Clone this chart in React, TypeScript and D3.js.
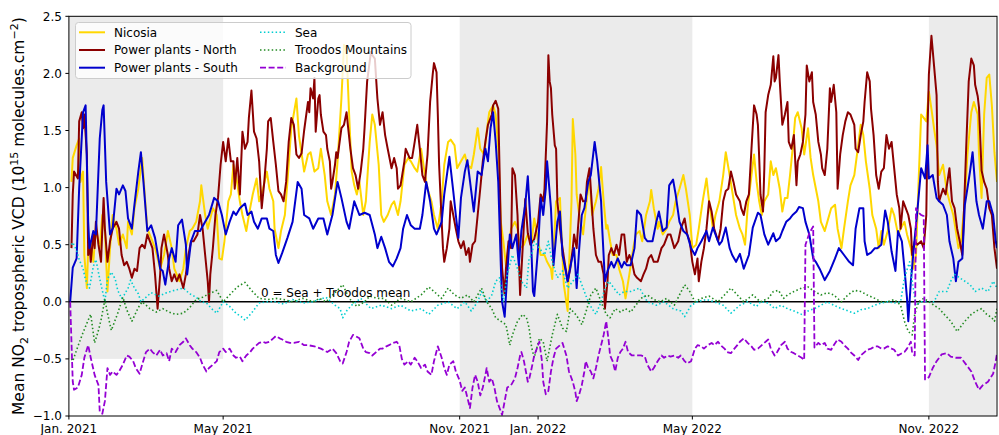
import React from "react";
import * as d3 from "d3";

// ---------- data (day offset from 1 Jan 2021, value in 1e15 molecules/cm2) ----------
const nicosia: [number, number][] = [[2,1.05],[3,1.26],[6,1.37],[8,1.43],[9,1.05],[11,1.14],[12,0.41],[14,0.12],[15,0.47],[17,0.53],[19,0.35],[21,0.64],[24,0.47],[26,0.76],[28,0.62],[30,0.09],[32,0.47],[34,0.76],[37,0.64],[39,0.5],[42,0.59],[45,0.47],[46,0.7],[49,0.59],[51,0.82],[54,0.99],[57,1.26],[59,0.94],[61,0.64],[65,0.53],[67,0.47],[71,0.29],[74,0.41],[77,0.62],[80,0.47],[82,0.29],[86,0.18],[89,0.29],[91,0.47],[94,0.62],[96,0.64],[99,0.7],[102,0.88],[103,1.02],[106,0.76],[108,0.64],[112,0.82],[115,0.76],[117,0.38],[119,0.37],[121,0.53],[124,0.88],[126,0.94],[128,1.2],[130,1.11],[133,0.88],[135,0.76],[138,0.62],[141,0.82],[143,0.94],[146,1.08],[148,0.88],[151,0.99],[154,1.14],[156,0.99],[159,0.88],[160,0.64],[163,0.47],[165,0.62],[168,0.76],[170,1.05],[173,1.52],[177,1.78],[179,1.45],[181,1.3],[183,1.14],[186,1.29],[188,1.31],[191,1.14],[194,1.17],[196,1.34],[199,1.11],[201,0.88],[204,0.76],[207,0.94],[209,1.23],[212,1.78],[214,2.25],[216,2.2],[218,1.64],[220,1.14],[222,1.02],[224,0.94],[226,1.05],[229,0.76],[231,0.88],[234,1.4],[236,1.64],[238,1.55],[241,1.2],[243,0.76],[245,0.7],[248,0.76],[251,0.85],[253,0.88],[256,0.76],[258,0.88],[261,1.2],[264,1.26],[266,1.23],[269,1.17],[271,1.14],[274,1.34],[277,1.11],[279,0.99],[282,0.88],[284,0.76],[287,0.64],[290,0.88],[292,1.2],[295,1.4],[297,1.42],[300,1.37],[302,1.17],[305,1.23],[308,1.29],[310,1.2],[313,1.17],[315,1.29],[318,1.52],[320,1.34],[323,1.29],[325,1.49],[327,1.66],[330,1.72],[332,1.64],[334,1.34],[336,0.7],[338,0.53],[340,0.32],[342,0.47],[344,0.64],[347,0.7],[349,0.64],[351,0.47],[354,0.5],[357,0.59],[360,0.53],[362,0.73],[365,0.53],[367,0.41],[370,0.41],[372,0.35],[375,0.29],[376,0.2],[379,0.88],[382,0.91],[383,0.64],[385,0.15],[388,-0.08],[389,0.29],[391,0.88],[392,1.6],[394,1.29],[395,0.94],[397,0.76],[400,0.59],[401,0.7],[403,0.91],[405,1.08],[407,0.76],[410,0.88],[412,0.99],[414,1.18],[416,0.88],[418,0.64],[419,0.67],[421,0.53],[423,0.41],[426,0.41],[428,0.29],[431,0.18],[433,0.03],[436,0.24],[439,0.47],[441,0.59],[444,0.62],[446,0.53],[449,0.76],[452,0.88],[453,0.98],[455,0.82],[458,0.64],[459,0.7],[462,0.59],[465,0.64],[467,0.7],[470,0.76],[472,0.88],[475,0.99],[478,1.11],[480,0.99],[483,0.76],[485,0.47],[488,0.5],[490,0.64],[493,0.88],[496,1.08],[498,0.88],[501,0.64],[503,0.76],[506,0.88],[509,1.11],[511,1.31],[514,1.11],[516,0.97],[519,0.76],[522,0.64],[524,0.59],[526,0.5],[528,0.82],[531,1.11],[533,1.29],[535,1.05],[537,0.88],[539,0.76],[541,0.88],[544,0.94],[546,1.23],[548,1.11],[550,1.17],[553,0.99],[555,0.79],[557,0.91],[559,0.91],[561,1.11],[563,1.34],[565,1.61],[567,1.66],[570,1.52],[572,1.29],[575,1.52],[577,1.26],[579,1.11],[583,0.88],[585,0.7],[588,0.62],[590,0.7],[593,0.82],[596,0.85],[598,0.64],[601,0.47],[603,0.64],[606,0.88],[608,1.02],[611,1.11],[614,1.37],[616,1.55],[618,1.46],[620,1.23],[623,0.99],[625,0.76],[628,0.64],[630,0.47],[632,0.62],[634,0.5],[637,0.62],[640,0.82],[642,0.76],[645,0.59],[647,0.64],[650,0.7],[652,0.59],[655,0.47],[657,0.29],[659,0.41],[661,1.05],[663,1.64],[665,1.61],[667,1.58],[669,1.84],[671,1.69],[673,1.52],[675,1.37],[677,1.11],[680,1.2],[683,0.97],[685,0.88],[688,0.76],[690,0.62],[692,0.47],[694,0.53],[697,0.88],[699,1.29],[702,1.66],[704,1.75],[707,1.64],[708,1.29],[710,0.91],[712,1.64],[714,1.96],[716,1.99],[718,1.72],[720,1.31],[722,1.05]];

const north: [number, number][] = [[2,0.47],[3,0.94],[4,1.14],[7,1.08],[8,1.58],[10,1.66],[11,1.52],[12,1.64],[14,1.29],[15,0.41],[16,0.53],[17,0.35],[19,0.59],[20,0.47],[21,0.7],[23,0.5],[25,0.35],[26,0.64],[27,0.91],[28,0.64],[30,0.35],[32,0.53],[34,0.64],[37,0.7],[39,0.64],[41,0.41],[43,0.32],[45,0.35],[47,0.29],[49,0.21],[51,0.29],[53,0.27],[55,0.47],[57,0.5],[59,0.47],[61,0.59],[64,0.5],[65,0.47],[67,0.24],[69,-0.06],[71,0.24],[72,0.47],[74,0.59],[77,0.41],[78,0.29],[80,0.18],[82,0.24],[84,0.18],[86,0.24],[89,0.12],[91,0.24],[93,0.41],[95,0.53],[97,0.53],[100,0.59],[102,0.76],[104,0.64],[106,0.41],[108,0.18],[109,0.0],[110,0.24],[112,0.47],[114,0.76],[116,0.91],[118,1.2],[120,1.4],[122,1.23],[124,1.43],[126,1.23],[128,1.23],[129,0.99],[131,1.26],[133,0.94],[135,1.49],[137,1.34],[139,1.4],[140,1.61],[142,1.85],[144,1.49],[146,1.43],[148,1.23],[150,0.82],[152,1.05],[154,1.34],[155,1.58],[157,1.61],[159,1.4],[161,1.2],[163,0.97],[165,0.94],[167,0.88],[169,1.05],[171,1.4],[173,1.61],[175,1.55],[177,1.29],[179,1.26],[181,1.3],[183,1.5],[186,1.75],[187,1.66],[188,1.87],[190,1.78],[191,1.96],[192,1.49],[194,1.78],[195,1.81],[196,1.64],[198,1.49],[200,1.46],[201,1.34],[203,1.23],[204,0.99],[205,1.05],[207,1.2],[208,1.31],[209,1.26],[212,1.52],[214,1.55],[216,1.66],[217,1.55],[219,1.34],[221,1.17],[223,1.11],[225,0.99],[227,1.14],[229,1.34],[230,1.52],[232,1.93],[235,2.19],[236,2.16],[238,2.13],[240,1.78],[242,1.55],[244,1.66],[246,1.46],[248,1.34],[251,1.17],[253,1.26],[255,1.17],[256,0.99],[258,1.02],[261,1.23],[262,1.34],[265,1.26],[267,1.26],[269,1.4],[271,1.55],[273,1.34],[275,1.11],[277,1.05],[279,1.29],[281,1.75],[283,1.99],[284,2.09],[286,2.01],[287,1.64],[288,1.2],[290,0.7],[291,0.47],[292,0.35],[294,0.47],[296,0.64],[297,0.88],[299,0.76],[301,0.64],[303,0.53],[305,0.47],[307,0.53],[309,0.41],[311,0.47],[312,0.35],[314,0.5],[316,0.53],[318,0.76],[320,0.99],[322,1.23],[324,1.4],[326,1.55],[329,1.64],[330,1.72],[332,1.76],[334,1.69],[335,1.17],[336,0.64],[337,0.29],[339,0.06],[340,0.29],[342,0.53],[344,0.47],[345,1.17],[347,1.11],[349,0.76],[351,0.06],[353,0.47],[355,0.9],[357,0.6],[359,0.5],[362,0.55],[365,0.7],[367,0.94],[369,0.88],[370,0.99],[372,1.58],[373,2.16],[374,1.93],[375,1.87],[376,1.64],[378,1.37],[379,1.34],[380,0.88],[382,0.64],[384,0.47],[386,0.32],[388,0.18],[390,0.29],[392,0.47],[393,0.59],[395,0.47],[396,0.64],[398,0.94],[400,0.88],[402,0.88],[403,1.05],[405,1.17],[406,0.99],[408,0.64],[410,0.41],[412,0.35],[414,0.35],[416,0.24],[417,-0.06],[419,0.18],[420,0.41],[422,0.47],[424,0.41],[426,0.5],[428,0.41],[430,0.59],[432,0.59],[434,0.35],[436,0.41],[438,0.35],[440,0.24],[442,0.21],[445,0.18],[447,0.24],[449,0.29],[451,0.38],[453,0.41],[455,0.35],[458,0.35],[461,0.47],[463,0.5],[466,0.59],[468,0.59],[471,0.47],[474,0.53],[476,0.64],[479,0.73],[481,0.59],[483,0.53],[485,0.35],[487,0.24],[489,0.38],[490,0.18],[492,0.35],[494,0.47],[496,0.64],[498,0.88],[500,0.79],[502,0.64],[505,0.53],[507,0.64],[509,0.88],[511,0.97],[513,0.99],[515,1.14],[517,1.05],[519,0.94],[522,0.88],[523,0.82],[525,0.76],[527,0.88],[529,0.94],[531,1.34],[533,1.72],[535,1.64],[536,1.55],[537,1.26],[538,0.94],[540,0.79],[541,1.17],[542,1.66],[544,1.81],[546,1.9],[548,2.15],[549,1.93],[550,1.96],[552,2.16],[553,1.93],[555,1.55],[557,1.64],[559,1.75],[560,1.4],[562,1.34],[564,1.46],[566,1.02],[567,1.23],[569,1.29],[571,1.4],[573,1.64],[574,2.07],[576,1.93],[578,2.01],[579,1.75],[581,1.64],[583,1.4],[585,1.29],[586,1.17],[588,1.11],[590,1.34],[592,1.87],[593,1.75],[595,1.9],[597,1.66],[598,0.99],[600,1.29],[602,1.46],[604,1.58],[606,1.66],[608,1.64],[610,1.58],[611,1.55],[612,1.34],[614,1.31],[616,1.46],[618,1.58],[619,1.75],[621,2.01],[623,1.93],[624,1.69],[626,1.46],[628,1.11],[630,0.99],[632,1.14],[634,1.17],[636,1.46],[638,1.34],[640,1.4],[642,1.17],[644,0.94],[646,0.82],[647,0.64],[649,0.88],[651,0.82],[653,0.76],[655,0.64],[656,0.41],[658,0.53],[660,0.5],[663,0.53],[665,0.47],[667,0.76],[668,1.52],[669,1.99],[671,2.33],[673,2.07],[675,1.81],[676,1.05],[677,0.88],[680,0.99],[682,0.94],[685,1.17],[687,0.88],[689,0.82],[691,0.64],[693,0.53],[695,0.41],[696,0.7],[698,1.34],[700,1.93],[702,2.13],[704,2.07],[705,1.9],[707,1.8],[708,1.7],[710,1.15],[712,1.05],[714,0.99],[716,0.82],[718,0.76],[720,0.47],[722,0.29]];

const south: [number, number][] = [[1,0.0],[3,0.3],[6,0.38],[8,1.0],[11,1.66],[13,1.72],[15,0.7],[16,0.47],[19,0.62],[21,0.59],[24,1.43],[26,1.68],[27,1.72],[29,1.05],[32,0.59],[34,0.64],[37,0.99],[39,0.94],[42,1.02],[44,0.97],[46,0.73],[49,0.64],[51,0.85],[54,1.14],[56,1.31],[58,1.05],[61,0.62],[64,0.67],[67,0.56],[71,0.29],[73,0.27],[75,0.15],[78,0.38],[80,0.47],[83,0.35],[85,0.67],[88,0.72],[91,0.5],[92,0.24],[95,0.53],[98,0.62],[102,0.62],[106,0.7],[109,0.76],[113,0.91],[116,0.88],[119,0.76],[122,0.59],[125,0.7],[128,0.79],[130,0.76],[133,0.82],[137,0.86],[139,0.76],[142,0.79],[144,0.7],[147,0.64],[150,0.73],[154,0.73],[156,0.64],[159,0.62],[161,0.41],[163,0.34],[166,0.43],[170,0.56],[174,0.7],[178,1.05],[181,0.99],[183,0.76],[187,0.73],[190,0.64],[194,0.73],[198,0.73],[201,0.59],[205,0.76],[209,1.05],[212,0.91],[216,0.7],[218,0.64],[222,0.88],[226,0.76],[230,0.78],[234,0.76],[238,0.59],[240,0.47],[243,0.57],[246,0.47],[249,0.35],[252,0.31],[255,0.38],[258,0.47],[260,0.64],[263,0.76],[266,0.67],[269,0.64],[273,0.64],[275,0.76],[278,1.05],[281,0.88],[284,0.64],[286,0.59],[290,0.7],[292,0.94],[296,1.27],[299,0.97],[301,0.76],[303,0.56],[305,0.91],[308,1.14],[310,1.24],[313,0.97],[315,0.79],[318,1.14],[321,1.11],[324,1.34],[326,1.23],[328,1.52],[330,1.66],[332,1.4],[334,1.05],[336,0.32],[337,0.0],[339,-0.13],[341,0.24],[343,0.59],[345,0.47],[348,0.59],[350,0.32],[352,0.62],[355,0.85],[357,1.1],[359,0.7],[361,0.09],[362,0.05],[365,0.47],[367,0.91],[369,0.76],[371,0.99],[372,1.23],[375,0.82],[377,0.32],[380,0.7],[382,0.79],[384,0.41],[387,0.24],[388,0.18],[390,0.3],[393,0.47],[395,0.12],[397,0.47],[399,0.76],[401,0.82],[404,1.05],[406,1.11],[409,1.4],[411,1.23],[414,0.88],[415,0.62],[417,0.18],[419,0.27],[422,0.35],[424,0.3],[427,0.38],[430,0.3],[432,0.35],[434,0.32],[437,0.32],[440,0.47],[442,0.8],[445,0.76],[448,0.56],[450,0.53],[454,0.53],[457,0.7],[459,0.79],[462,0.62],[465,0.65],[467,1.02],[470,1.07],[472,0.94],[475,0.7],[478,0.62],[481,0.59],[484,0.47],[487,0.41],[489,0.47],[492,0.53],[496,0.62],[498,0.53],[501,0.65],[503,0.59],[506,0.5],[508,0.53],[511,0.65],[514,0.47],[516,0.41],[519,0.35],[522,0.42],[525,0.29],[529,0.41],[532,0.65],[536,0.78],[538,0.76],[541,0.59],[544,0.5],[548,0.6],[550,0.53],[553,0.56],[555,0.62],[558,0.7],[561,0.73],[563,0.76],[566,0.79],[568,0.83],[571,0.82],[573,0.7],[576,0.59],[579,0.38],[581,0.35],[584,0.29],[586,0.24],[588,0.19],[592,0.27],[596,0.38],[599,0.47],[603,0.41],[607,0.35],[610,0.32],[612,0.64],[615,0.82],[618,0.82],[619,0.53],[621,0.41],[624,0.43],[627,0.47],[629,0.47],[632,0.5],[635,0.8],[637,0.7],[640,0.44],[643,0.27],[645,0.62],[648,0.53],[650,0.29],[652,0.03],[653,-0.17],[655,0.18],[658,0.56],[660,0.79],[663,1.17],[666,1.08],[668,1.37],[669,1.08],[672,1.11],[675,0.91],[677,0.88],[680,0.85],[683,0.76],[685,0.53],[688,0.38],[690,0.18],[692,0.35],[695,0.38],[697,0.85],[701,1.14],[703,1.31],[706,0.88],[708,0.76],[711,0.64],[714,0.88],[716,0.88],[719,0.76],[721,0.53],[722,0.47]];

const sea: [number, number][] = [[2,0.5],[3,0.52],[6,0.45],[8,0.37],[11,0.29],[13,0.19],[16,0.12],[19,0.31],[21,0.37],[24,0.2],[28,0.0],[30,0.2],[33,0.26],[36,0.2],[38,0.1],[41,0.03],[43,0.06],[46,0.12],[48,0.19],[51,0.12],[54,0.07],[56,0.0],[59,0.03],[64,0.08],[70,0.05],[76,0.08],[82,0.1],[89,0.12],[94,0.07],[99,0.04],[103,0.0],[107,-0.01],[111,-0.06],[115,-0.1],[120,0.0],[125,-0.04],[130,-0.1],[134,-0.13],[137,-0.16],[142,-0.1],[148,-0.01],[155,0.0],[161,0.0],[167,-0.02],[174,0.02],[182,-0.01],[190,0.0],[195,0.02],[200,0.04],[207,-0.03],[211,-0.06],[213,-0.14],[216,-0.08],[220,-0.03],[227,0.03],[235,-0.06],[243,-0.03],[251,-0.06],[258,-0.03],[266,-0.08],[274,-0.06],[280,-0.11],[287,-0.03],[295,0.0],[302,-0.06],[308,0.0],[313,-0.08],[318,0.0],[321,0.09],[325,0.0],[329,0.06],[332,0.18],[335,0.21],[338,0.0],[341,0.24],[345,0.41],[349,0.29],[352,0.18],[356,0.12],[358,0.38],[360,0.41],[362,0.53],[366,0.47],[370,0.41],[373,0.53],[376,0.35],[380,0.21],[384,0.27],[388,0.12],[392,0.18],[396,0.24],[400,0.12],[404,0.0],[407,-0.06],[410,-0.11],[414,0.0],[417,0.12],[420,0.18],[424,0.12],[428,0.06],[432,0.09],[437,0.09],[444,0.12],[450,0.0],[457,-0.03],[463,0.0],[470,-0.06],[476,-0.08],[479,-0.13],[484,-0.03],[489,0.0],[496,0.02],[502,0.0],[509,-0.03],[515,-0.1],[522,-0.03],[528,0.0],[535,-0.04],[538,0.0],[544,-0.01],[549,-0.06],[554,-0.03],[559,-0.06],[564,-0.08],[570,-0.11],[575,-0.08],[580,-0.06],[585,-0.03],[590,0.0],[595,-0.03],[601,-0.06],[606,-0.08],[611,-0.1],[616,-0.07],[621,-0.06],[627,-0.03],[632,-0.01],[637,0.0],[642,-0.01],[647,0.0],[650,0.21],[654,0.35],[656,0.18],[659,-0.03],[663,0.0],[668,0.0],[673,0.0],[677,0.09],[683,0.09],[686,0.18],[689,0.24],[693,0.21],[697,0.18],[701,0.15],[705,0.09],[710,0.12],[715,0.09],[719,0.18],[722,0.12]];

const troodos: [number, number][] = [[2,-0.5],[3,-0.52],[7,-0.39],[11,-0.27],[15,-0.16],[17,-0.11],[20,-0.36],[23,-0.25],[25,-0.16],[28,0.02],[30,-0.1],[33,-0.25],[38,-0.1],[42,0.04],[45,-0.07],[49,-0.17],[54,-0.05],[57,0.0],[63,-0.06],[68,-0.09],[73,-0.06],[78,-0.09],[83,-0.11],[89,-0.1],[94,-0.05],[99,0.02],[104,0.04],[109,0.07],[115,0.1],[120,0.0],[125,0.06],[131,0.13],[137,0.17],[142,0.1],[148,0.03],[155,0.02],[161,0.03],[167,0.02],[174,0.0],[182,0.03],[190,0.0],[195,0.03],[200,0.0],[207,0.08],[213,0.15],[218,0.03],[224,-0.04],[230,0.0],[234,0.05],[240,0.03],[245,0.03],[251,-0.03],[258,0.03],[266,0.0],[274,0.06],[280,0.13],[284,0.09],[290,0.03],[295,0.12],[300,0.06],[305,0.03],[310,0.06],[315,0.0],[321,0.12],[325,0.0],[329,-0.06],[332,-0.14],[336,-0.17],[340,-0.2],[343,-0.38],[345,-0.29],[349,-0.17],[353,-0.11],[356,-0.14],[358,-0.23],[360,-0.4],[362,-0.49],[366,-0.32],[369,-0.35],[372,-0.52],[376,-0.29],[380,-0.11],[384,-0.23],[387,-0.26],[390,-0.06],[395,-0.12],[399,-0.2],[403,-0.06],[406,0.06],[410,0.12],[414,0.0],[418,-0.11],[421,-0.14],[425,-0.06],[429,-0.09],[433,-0.06],[437,-0.09],[441,-0.03],[445,0.03],[450,0.06],[455,0.02],[460,0.0],[465,0.03],[471,-0.03],[475,0.06],[479,0.15],[483,0.09],[487,0.0],[492,0.03],[498,0.05],[505,0.0],[510,0.06],[515,0.12],[520,0.06],[525,0.0],[532,0.06],[538,0.0],[544,0.03],[548,0.09],[552,0.1],[556,0.03],[559,0.06],[564,0.09],[570,0.12],[575,0.13],[580,0.09],[585,0.06],[590,0.08],[595,0.06],[601,0.0],[606,0.06],[611,0.1],[616,0.09],[621,0.06],[627,0.03],[632,0.0],[637,0.0],[642,0.02],[647,-0.03],[650,-0.17],[653,-0.26],[656,-0.29],[658,-0.11],[661,0.0],[665,0.03],[669,0.0],[673,-0.03],[677,-0.06],[681,-0.11],[686,-0.17],[691,-0.26],[697,-0.17],[702,-0.11],[706,-0.08],[710,-0.06],[714,-0.11],[718,-0.14],[720,-0.17],[722,-0.06]];

const background: [number, number][] = [[1,0.0],[3,-0.7],[4,-0.77],[7,-0.75],[10,-0.64],[12,-0.49],[15,-0.38],[17,-0.49],[20,-0.64],[23,-0.73],[24,-0.96],[26,-0.98],[28,-0.87],[30,-0.58],[32,-0.64],[34,-0.61],[37,-0.64],[39,-0.61],[42,-0.55],[45,-0.47],[47,-0.48],[50,-0.52],[52,-0.58],[55,-0.63],[57,-0.55],[60,-0.44],[63,-0.41],[65,-0.44],[68,-0.47],[71,-0.42],[73,-0.47],[76,-0.45],[78,-0.52],[80,-0.41],[83,-0.44],[86,-0.38],[89,-0.35],[91,-0.32],[94,-0.38],[96,-0.41],[99,-0.44],[102,-0.49],[104,-0.55],[107,-0.61],[109,-0.58],[112,-0.55],[115,-0.52],[117,-0.44],[120,-0.41],[122,-0.44],[125,-0.41],[128,-0.47],[130,-0.49],[133,-0.48],[135,-0.52],[138,-0.47],[141,-0.44],[143,-0.41],[146,-0.38],[148,-0.36],[151,-0.35],[153,-0.36],[156,-0.35],[159,-0.32],[161,-0.3],[164,-0.32],[166,-0.33],[169,-0.35],[172,-0.36],[175,-0.36],[179,-0.35],[183,-0.38],[186,-0.38],[191,-0.39],[196,-0.41],[201,-0.44],[205,-0.41],[208,-0.45],[211,-0.52],[213,-0.54],[216,-0.44],[218,-0.35],[221,-0.29],[223,-0.3],[226,-0.32],[229,-0.41],[231,-0.44],[234,-0.45],[236,-0.47],[239,-0.44],[242,-0.41],[244,-0.41],[247,-0.39],[249,-0.38],[252,-0.36],[255,-0.35],[257,-0.38],[259,-0.5],[261,-0.55],[264,-0.52],[266,-0.55],[269,-0.49],[271,-0.52],[274,-0.58],[277,-0.55],[279,-0.61],[282,-0.64],[284,-0.52],[287,-0.39],[290,-0.49],[292,-0.58],[294,-0.64],[296,-0.55],[299,-0.52],[301,-0.61],[304,-0.69],[306,-0.78],[308,-0.75],[310,-0.84],[312,-0.93],[314,-0.75],[316,-0.64],[318,-0.7],[320,-0.82],[322,-0.75],[324,-0.64],[325,-0.58],[327,-0.7],[329,-0.67],[331,-0.75],[333,-0.87],[336,-0.96],[337,-0.99],[339,-0.87],[341,-0.75],[344,-0.73],[347,-0.67],[349,-0.58],[351,-0.47],[352,-0.44],[354,-0.52],[357,-0.7],[358,-0.68],[360,-0.58],[362,-0.47],[364,-0.41],[366,-0.35],[368,-0.52],[369,-0.7],[371,-0.81],[373,-0.78],[375,-0.61],[377,-0.49],[379,-0.41],[382,-0.38],[384,-0.36],[387,-0.47],[389,-0.61],[392,-0.7],[394,-0.79],[395,-0.87],[397,-0.81],[399,-0.73],[401,-0.61],[402,-0.52],[404,-0.58],[406,-0.61],[408,-0.67],[410,-0.58],[412,-0.47],[414,-0.38],[416,-0.29],[418,-0.17],[420,-0.35],[421,-0.47],[423,-0.52],[425,-0.61],[427,-0.49],[429,-0.44],[431,-0.41],[433,-0.35],[435,-0.44],[438,-0.47],[440,-0.47],[443,-0.47],[445,-0.47],[448,-0.48],[450,-0.55],[453,-0.61],[455,-0.58],[458,-0.52],[461,-0.47],[463,-0.49],[466,-0.47],[468,-0.48],[471,-0.47],[474,-0.49],[476,-0.47],[479,-0.52],[481,-0.54],[484,-0.52],[487,-0.41],[489,-0.38],[492,-0.39],[494,-0.41],[497,-0.38],[500,-0.36],[502,-0.38],[505,-0.35],[507,-0.38],[510,-0.41],[512,-0.44],[515,-0.45],[517,-0.42],[520,-0.38],[522,-0.35],[525,-0.32],[528,-0.36],[531,-0.39],[533,-0.42],[536,-0.41],[538,-0.39],[541,-0.36],[544,-0.33],[546,-0.41],[549,-0.47],[551,-0.44],[554,-0.38],[557,-0.35],[559,-0.41],[562,-0.44],[564,-0.45],[567,-0.47],[570,-0.49],[572,-0.51],[573,0.5],[576,0.6],[579,0.66],[580,-0.4],[583,-0.36],[585,-0.38],[588,-0.36],[590,-0.41],[593,-0.42],[595,-0.38],[598,-0.33],[601,-0.35],[603,-0.38],[606,-0.41],[608,-0.44],[611,-0.47],[614,-0.51],[616,-0.47],[619,-0.44],[621,-0.42],[624,-0.41],[627,-0.39],[629,-0.39],[632,-0.41],[634,-0.41],[637,-0.39],[640,-0.41],[642,-0.42],[645,-0.47],[648,-0.45],[650,-0.44],[652,-0.41],[655,-0.35],[656,-0.45],[658,-0.47],[659,0.82],[661,0.78],[663,0.76],[665,0.75],[666,-0.68],[669,-0.66],[672,-0.58],[675,-0.52],[679,-0.46],[683,-0.45],[686,-0.48],[690,-0.49],[694,-0.49],[698,-0.55],[702,-0.61],[705,-0.7],[708,-0.77],[711,-0.73],[715,-0.7],[719,-0.63],[721,-0.52],[722,-0.45]];

const xTickDates = ["2021-01-01", "2021-05-01", "2021-11-01", "2022-01-01", "2022-05-01", "2022-11-01"];
const xTickLabels = ["Jan. 2021", "May 2021", "Nov. 2021", "Jan. 2022", "May 2022", "Nov. 2022"];
const yTicks = [-1.0, -0.5, 0.0, 0.5, 1.0, 1.5, 2.0, 2.5];

const shadeStarts = ["2021-01-01", "2021-11-01", "2022-11-01"];
const shadeEnds = ["2021-05-01", "2022-05-01", "2022-12-23"];
const shadeBottoms = [-0.5, -1.0, -1.0];

const seriesNames = ["Nicosia", "Power plants - North", "Power plants - South", "Sea", "Troodos Mountains", "Background"];
const seriesColors = ["#ffd700", "#8b0000", "#0000cd", "#00ced1", "#228b22", "#9400d3"];
const seriesDash = ["none", "none", "none", "1.5,2.4", "1.5,2.4", "6,2.6"];
const seriesWidth = [2, 2, 2, 1.6, 1.6, 1.8];
const seriesData = [nicosia, north, south, sea, troodos, background];

// ---------- layout ----------
const W = 999, H = 435;
const L = 68.9, R = 997, T = 16.3, B = 416;
const START = Date.UTC(2021, 0, 1);
const DAY = 86400000;
const FONT = "DejaVu Sans, sans-serif";

const parse = (s: string) => new Date(s + "T00:00:00Z");

export default function App() {
  const x = d3.scaleUtc().domain([new Date(START), new Date(START + 722 * DAY)]).range([L, R]);
  const y = d3.scaleLinear().domain([-1, 2.5]).range([B, T]);
  const line = d3
    .line<[number, number]>()
    .x((d) => x(new Date(START + d[0] * DAY)))
    .y((d) => y(d[1]));

  const legendRows = [32.3, 50, 67.7];
  const legendCols = [{ lx: 79, tx: 114 }, { lx: 260, tx: 295 }];

  return (
    <svg
      width={W}
      height={H}
      style={{ position: "absolute", left: 0, top: 0, background: "#fff" }}
      fontFamily={FONT}
    >
      <defs>
        <clipPath id="plot">
          <rect x={L} y={T} width={R - L} height={B - T} />
        </clipPath>
      </defs>
      <rect x={0} y={0} width={W} height={H} fill="#fff" />
      {shadeStarts.map((s, i) => (
        <rect
          key={"sh" + i}
          x={x(parse(s))}
          y={T}
          width={Math.min(R, x(parse(shadeEnds[i]))) - x(parse(s))}
          height={y(shadeBottoms[i]) - T}
          fill="#ebebeb"
        />
      ))}
      <g clipPath="url(#plot)">
        <line x1={L} x2={R} y1={y(0)} y2={y(0)} stroke="#000" strokeWidth={1.6} />
        {seriesData.map((data, i) => (
          <path
            key={"s" + i}
            d={line(data) || ""}
            fill="none"
            stroke={seriesColors[i]}
            strokeWidth={seriesWidth[i]}
            strokeDasharray={seriesDash[i]}
            strokeLinejoin="round"
          />
        ))}
      </g>
      <text x={261} y={297} fontSize={12} fill="#000">
        0 = Sea + Troodos mean
      </text>
      {/* axes */}
      <rect x={L} y={T} width={R - L} height={B - T} fill="none" stroke="#000" strokeWidth={1} />
      {yTicks.map((t) => (
        <g key={"yt" + t}>
          <line x1={L - 3.5} x2={L} y1={y(t)} y2={y(t)} stroke="#000" strokeWidth={1} />
          <text x={L - 7} y={y(t)} dy="0.36em" textAnchor="end" fontSize={12} fill="#000">
            {t < 0 ? "\u2212" + Math.abs(t).toFixed(1) : t.toFixed(1)}
          </text>
        </g>
      ))}
      {xTickDates.map((s, i) => (
        <g key={"xt" + i}>
          <line x1={x(parse(s))} x2={x(parse(s))} y1={B} y2={B + 3.5} stroke="#000" strokeWidth={1} />
          <text x={x(parse(s))} y={B + 16.5} textAnchor="middle" fontSize={12} fill="#000">
            {xTickLabels[i]}
          </text>
        </g>
      ))}
      <text
        transform={`translate(24,${(T + B) / 2}) rotate(-90)`}
        textAnchor="middle"
        fontSize={15.5}
        fill="#000"
      >
        Mean NO
        <tspan fontSize={11} dy={4}>2</tspan>
        <tspan dy={-4}> tropospheric VCD (10</tspan>
        <tspan fontSize={11} dy={-6}>15</tspan>
        <tspan dy={6}> molecules.cm</tspan>
        <tspan fontSize={11} dy={-6}>{"\u22122"}</tspan>
        <tspan dy={6}>)</tspan>
      </text>
      {/* legend */}
      <rect x={75.5} y={22.5} width={335.5} height={56} rx={3} fill="#fff" fillOpacity={0.8} stroke="#cccccc" strokeWidth={1} />
      {seriesNames.map((n, i) => {
        const col = legendCols[Math.floor(i / 3)];
        const ry = legendRows[i % 3];
        return (
          <g key={"lg" + i}>
            <line
              x1={col.lx}
              x2={col.lx + 26}
              y1={ry}
              y2={ry}
              stroke={seriesColors[i]}
              strokeWidth={seriesWidth[i]}
              strokeDasharray={seriesDash[i]}
            />
            <text x={col.tx} y={ry} dy="0.36em" fontSize={12} fill="#000">
              {n}
            </text>
          </g>
        );
      })}
    </svg>
  );
}
